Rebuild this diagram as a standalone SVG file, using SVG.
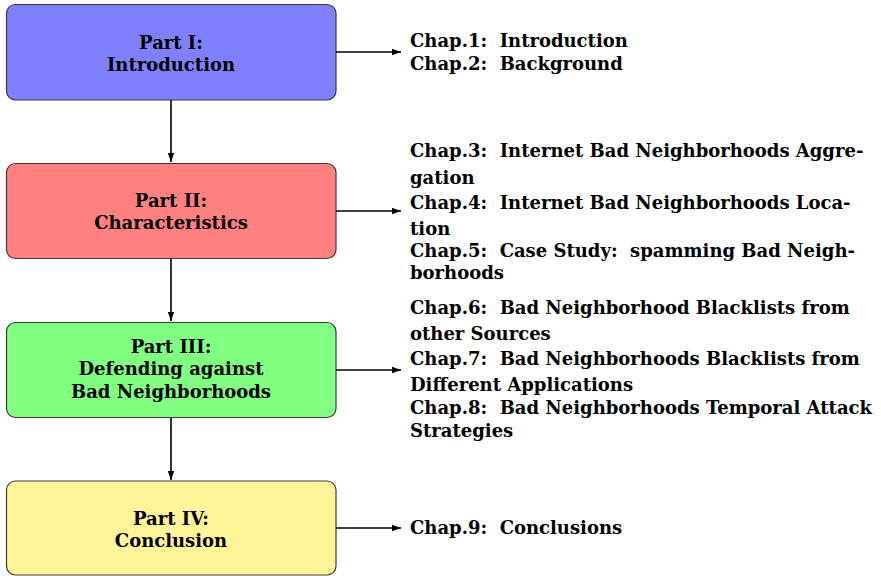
<svg xmlns="http://www.w3.org/2000/svg" width="881" height="576" viewBox="0 0 881 576">
<defs>
<marker id="ah" markerWidth="10" markerHeight="8" refX="9" refY="4" orient="auto" markerUnits="userSpaceOnUse">
<path d="M0,0.8 L9,4 L0,7.2 Z" fill="#000"/>
</marker>
</defs>
<style>
.box{stroke:#3a3a3a;stroke-width:1.2}
.t{font-family:"DejaVu Serif","Liberation Serif",serif;font-weight:bold;font-size:18px;fill:#000;white-space:pre}
.c{text-anchor:middle}
.ln{stroke:#000;stroke-width:1.6;fill:none}
</style>
<rect width="881" height="576" fill="#fff"/>
<g id="part1">
<rect class="box" x="6.5" y="4.5" width="329.5" height="95.5" rx="9" fill="#8080ff"/>
<text class="t c" x="171" y="49">Part I:</text>
<text class="t c" x="171" y="71">Introduction</text>
</g>
<g id="part2">
<rect class="box" x="6.5" y="163.5" width="329.5" height="95" rx="9" fill="#ff8080"/>
<text class="t c" x="171" y="207">Part II:</text>
<text class="t c" x="171" y="229">Characteristics</text>
</g>
<g id="part3">
<rect class="box" x="6.5" y="322.5" width="329.5" height="95" rx="9" fill="#80ff80"/>
<text class="t c" x="171" y="353">Part III:</text>
<text class="t c" x="171" y="375">Defending against</text>
<text class="t c" x="171" y="398">Bad Neighborhoods</text>
</g>
<g id="part4">
<rect class="box" x="6.5" y="481" width="329.5" height="94" rx="9" fill="#fff598"/>
<text class="t c" x="171" y="525">Part IV:</text>
<text class="t c" x="171" y="547">Conclusion</text>
</g>
<g id="chapters1">
<text class="t" x="410" y="47">Chap.1:  Introduction</text>
<text class="t" x="410" y="70">Chap.2:  Background</text>
</g>
<g id="chapters2">
<text class="t" x="410" y="157">Chap.3:  Internet Bad Neighborhoods Aggre-</text>
<text class="t" x="410" y="184">gation</text>
<text class="t" x="410" y="209">Chap.4:  Internet Bad Neighborhoods Loca-</text>
<text class="t" x="410" y="235">tion</text>
<text class="t" x="410" y="257">Chap.5:  Case Study:  spamming Bad Neigh-</text>
<text class="t" x="410" y="279">borhoods</text>
</g>
<g id="chapters3">
<text class="t" x="410" y="314">Chap.6:  Bad Neighborhood Blacklists from</text>
<text class="t" x="410" y="340">other Sources</text>
<text class="t" x="410" y="365">Chap.7:  Bad Neighborhoods Blacklists from</text>
<text class="t" x="410" y="391">Different Applications</text>
<text class="t" x="410" y="414">Chap.8:  Bad Neighborhoods Temporal Attack</text>
<text class="t" x="410" y="437">Strategies</text>
</g>
<g id="chapters4">
<text class="t" x="410" y="534">Chap.9:  Conclusions</text>
</g>
<g id="connectors">
<line class="ln" x1="171" y1="100" x2="171" y2="162" marker-end="url(#ah)"/>
<line class="ln" x1="171" y1="259" x2="171" y2="321" marker-end="url(#ah)"/>
<line class="ln" x1="171" y1="418" x2="171" y2="480" marker-end="url(#ah)"/>
<line class="ln" x1="336" y1="52" x2="401" y2="52" marker-end="url(#ah)"/>
<line class="ln" x1="336" y1="211" x2="401" y2="211" marker-end="url(#ah)"/>
<line class="ln" x1="336" y1="370" x2="401" y2="370" marker-end="url(#ah)"/>
<line class="ln" x1="336" y1="528" x2="401" y2="528" marker-end="url(#ah)"/>
</g>
</svg>
